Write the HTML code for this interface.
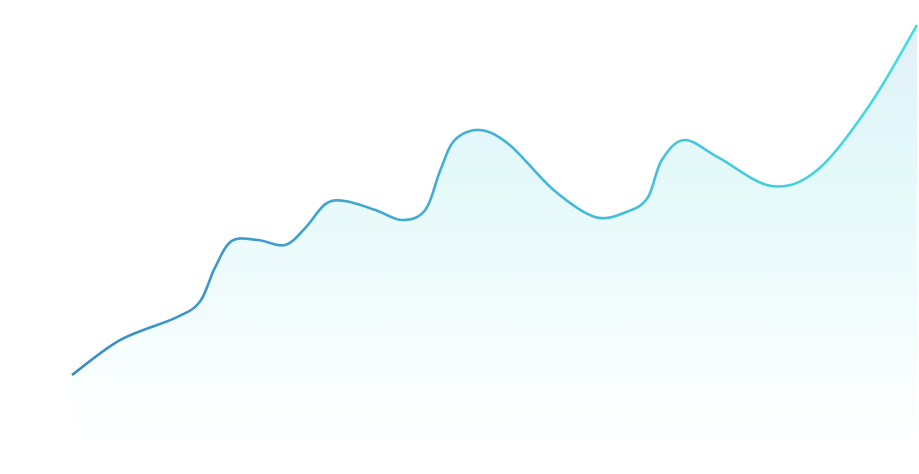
<!DOCTYPE html>
<html><head><meta charset="utf-8"><style>
html,body{margin:0;padding:0;background:#fff;}
svg{display:block;}
</style></head><body>
<svg id="chart" width="919" height="474" viewBox="0 0 919 474">
<defs>
<linearGradient id="lineGrad" x1="0" y1="0" x2="1" y2="0">
<stop offset="0" stop-color="#3a8bc4"/><stop offset="0.5" stop-color="#43b2d6"/><stop offset="1" stop-color="#45dbe0"/>
</linearGradient>
<linearGradient id="fillGrad" x1="0" y1="0" x2="0" y2="1">
<stop offset="0" stop-color="#e0f1f8"/><stop offset="0.35" stop-color="#e4f9fa"/><stop offset="1" stop-color="#ffffff"/>
</linearGradient>
</defs>
<path id="area" fill="url(#fillGrad)"/>
<path id="line" fill="none" stroke="url(#lineGrad)" stroke-width="2.6"/>
</svg>
<script>
const positions = [0,5.7,12.2,15.1,16.9,18.9,22,25.2,27.6,30,32.3,35.9,39.1,41.8,43.6,45.3,48.3,51.8,57,61.9,65.6,68.1,69.8,72.5,76.6,82.8,88.2,94.4,100];
const values = [16.25,25,30.5,34.5,43,49.75,50,48.75,53,59,59.75,57.5,55,57.5,67.5,75,77.5,73.75,62.5,55.75,57,60.5,70,75,70.5,63.5,67.5,83.75,103.75];
function xScale(t){return 72 + t*8.45;}
function yScale(v){return 440 - v*4;}
const pts = positions.map((t,i)=>[xScale(t), yScale(values[i])]);
function catmull(p){
  let s='M'+p[0][0]+','+p[0][1];
  for(let i=0;i<p.length-1;i++){
    const p0=p[Math.max(0,i-1)], p1=p[i], p2=p[i+1], p3=p[Math.min(p.length-1,i+2)];
    const c1=[p1[0]+(p2[0]-p0[0])/6, p1[1]+(p2[1]-p0[1])/6];
    const c2=[p2[0]-(p3[0]-p1[0])/6, p2[1]-(p3[1]-p1[1])/6];
    s+=' C'+c1[0]+','+c1[1]+' '+c2[0]+','+c2[1]+' '+p2[0]+','+p2[1];
  }
  return s;
}
const d = catmull(pts);
document.getElementById('line').setAttribute('d', d);
document.getElementById('area').setAttribute('d', d + ' L'+pts[pts.length-1][0]+',440 L'+pts[0][0]+',440 Z');
</script>
</body></html>
